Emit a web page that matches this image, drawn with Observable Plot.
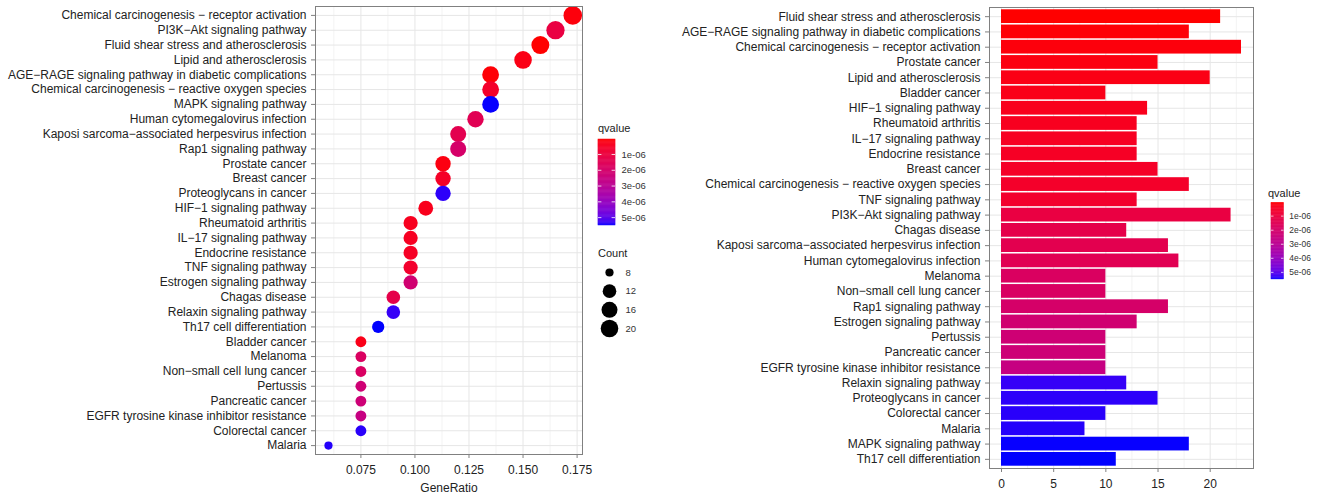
<!DOCTYPE html>
<html>
<head>
<meta charset="utf-8">
<script src="https://cdn.jsdelivr.net/npm/d3@7"></script>
<script src="https://cdn.jsdelivr.net/npm/@observablehq/plot@0.6"></script>
<style>
html,body{margin:0;padding:0;background:#fff;}
#fig{position:relative;width:1328px;height:496px;overflow:hidden;font-family:"Liberation Sans",Arial,sans-serif;background:#fff;}
.part{position:absolute;}
.ltitle{position:absolute;font-size:11px;color:#222;line-height:11px;white-space:nowrap;}
</style>
</head>
<body>
<div id="fig"></div>
<script>
// ---------- data ----------
const pathways = [
  "Chemical carcinogenesis − receptor activation",
  "PI3K−Akt signaling pathway",
  "Fluid shear stress and atherosclerosis",
  "Lipid and atherosclerosis",
  "AGE−RAGE signaling pathway in diabetic complications",
  "Chemical carcinogenesis − reactive oxygen species",
  "MAPK signaling pathway",
  "Human cytomegalovirus infection",
  "Kaposi sarcoma−associated herpesvirus infection",
  "Rap1 signaling pathway",
  "Prostate cancer",
  "Breast cancer",
  "Proteoglycans in cancer",
  "HIF−1 signaling pathway",
  "Rheumatoid arthritis",
  "IL−17 signaling pathway",
  "Endocrine resistance",
  "TNF signaling pathway",
  "Estrogen signaling pathway",
  "Chagas disease",
  "Relaxin signaling pathway",
  "Th17 cell differentiation",
  "Bladder cancer",
  "Melanoma",
  "Non−small cell lung cancer",
  "Pertussis",
  "Pancreatic cancer",
  "EGFR tyrosine kinase inhibitor resistance",
  "Colorectal cancer",
  "Malaria"
];
const geneRatio = [0.173,0.165,0.158,0.150,0.135,0.135,0.135,0.128,0.120,0.120,
                   0.113,0.113,0.113,0.105,0.098,0.098,0.098,0.098,0.098,0.090,
                   0.090,0.083,0.075,0.075,0.075,0.075,0.075,0.075,0.075,0.060];
const counts = [23,22,21,20,18,18,18,17,16,16,
                15,15,15,14,13,13,13,13,13,12,
                12,11,10,10,10,10,10,10,10,8];
const qvalues = [1.5e-7,1.1e-6,5e-8,2.5e-7,1.0e-7,6.0e-7,5.49e-6,1.5e-6,1.4e-6,2.0e-6,
                 2.0e-7,5.5e-7,5.38e-6,3.5e-7,4.0e-7,4.5e-7,5.0e-7,6.5e-7,2.2e-6,1.3e-6,
                 5.33e-6,5.5e-6,3.0e-7,1.8e-6,1.85e-6,2.3e-6,2.35e-6,2.6e-6,5.4e-6,5.42e-6];
const barOrder = [
  "Fluid shear stress and atherosclerosis",
  "AGE−RAGE signaling pathway in diabetic complications",
  "Chemical carcinogenesis − receptor activation",
  "Prostate cancer",
  "Lipid and atherosclerosis",
  "Bladder cancer",
  "HIF−1 signaling pathway",
  "Rheumatoid arthritis",
  "IL−17 signaling pathway",
  "Endocrine resistance",
  "Breast cancer",
  "Chemical carcinogenesis − reactive oxygen species",
  "TNF signaling pathway",
  "PI3K−Akt signaling pathway",
  "Chagas disease",
  "Kaposi sarcoma−associated herpesvirus infection",
  "Human cytomegalovirus infection",
  "Melanoma",
  "Non−small cell lung cancer",
  "Rap1 signaling pathway",
  "Estrogen signaling pathway",
  "Pertussis",
  "Pancreatic cancer",
  "EGFR tyrosine kinase inhibitor resistance",
  "Relaxin signaling pathway",
  "Proteoglycans in cancer",
  "Colorectal cancer",
  "Malaria",
  "MAPK signaling pathway",
  "Th17 cell differentiation"
];
const ratioTicks = [0.075, 0.100, 0.125, 0.150, 0.175];
const ratioMinor = [0.0625, 0.0875, 0.1125, 0.1375, 0.1625];
const countAxisTicks = [0, 5, 10, 15, 20];
const countAxisMinor = [2.5, 7.5, 12.5, 17.5, 22.5];
const qTicks = [1e-6, 2e-6, 3e-6, 4e-6, 5e-6];
const countLegend = [8, 12, 16, 20];

// ---------- shared ----------
const font = "Liberation Sans, Arial, sans-serif";
const fig = document.getElementById("fig");
const rows = pathways.map((p, i) => ({pathway: p, ratio: geneRatio[i], count: counts[i], q: qvalues[i]}));
const qExtent = d3.extent(qvalues);
const colorScale = {type: "linear", domain: qExtent, range: ["#ff0000", "#0000ff"], interpolate: "lab"};
const rScale = {type: "linear", domain: [8, 12, 16, 20, 23], range: [4.1, 6.8, 8.0, 8.8, 9.3]};
const fmtQ = d => {
  const [m, e] = d.toExponential(0).split("e");
  return m + "e" + (e[0] === "-" ? "-" : "+") + String(Math.abs(+e)).padStart(2, "0");
};
const baseStyle = {fontFamily: font, fontSize: "12px", color: "#222", background: "transparent", overflow: "visible"};
function place(node, left, top) {
  const d = document.createElement("div");
  d.className = "part";
  d.style.left = left + "px";
  d.style.top = top + "px";
  d.appendChild(node);
  fig.appendChild(d);
}
function title(text, left, top) {
  const d = document.createElement("div");
  d.className = "ltitle";
  d.style.left = left + "px";
  d.style.top = top + "px";
  d.textContent = text;
  fig.appendChild(d);
}

// ---------- dot plot ----------
const dotPlot = Plot.plot({
  width: 590, height: 496,
  marginLeft: 315, marginRight: 8, marginTop: 6, marginBottom: 42,
  style: baseStyle,
  x: {domain: [0.054, 0.1775]},
  y: {type: "point", domain: pathways, padding: 0.6, round: false},
  color: colorScale,
  r: rScale,
  marks: [
    Plot.gridX({ticks: ratioMinor, stroke: "#f3f3f3", strokeOpacity: 1}),
    Plot.gridX({ticks: ratioTicks, stroke: "#e6e6e6", strokeOpacity: 1}),
    Plot.gridY({stroke: "#e6e6e6", strokeOpacity: 1}),
    Plot.dot(rows, {x: "ratio", y: "pathway", r: "count", fill: "q"}),
    Plot.frame({stroke: "#808080"}),
    Plot.axisX({ticks: ratioTicks, tickFormat: d3.format(".3f"), tickSize: 4, tickPadding: 7,
      stroke: "#808080", fill: "#222", label: "GeneRatio", labelAnchor: "center", labelArrow: "none", labelOffset: 37}),
    Plot.axisY({tickSize: 4, tickPadding: 5, stroke: "#808080", fill: "#222", label: null})
  ]
});
place(dotPlot, 0, 0);

// ---------- bar plot ----------
const barPlot = Plot.plot({
  width: 600, height: 496,
  marginLeft: 309, marginRight: 27, marginTop: 7, marginBottom: 28,
  style: baseStyle,
  x: {domain: [-1.15, 24.15]},
  y: {type: "band", domain: barOrder, paddingInner: 0.1, paddingOuter: 0.15, round: false},
  color: colorScale,
  marks: [
    Plot.gridX({ticks: countAxisMinor, stroke: "#f3f3f3", strokeOpacity: 1}),
    Plot.gridX({ticks: countAxisTicks, stroke: "#e6e6e6", strokeOpacity: 1}),
    Plot.gridY({stroke: "#e6e6e6", strokeOpacity: 1}),
    Plot.barX(rows, {x: "count", y: "pathway", fill: "q"}),
    Plot.frame({stroke: "#808080"}),
    Plot.axisX({ticks: countAxisTicks, tickSize: 4, tickPadding: 7, stroke: "#808080", fill: "#222", label: null}),
    Plot.axisY({tickSize: 4, tickPadding: 5, stroke: "#808080", fill: "#222", label: null})
  ]
});
place(barPlot, 680, 0);

// ---------- legends ----------
function colorbar(barW, barH) {
  const n = 100;
  const [a, b] = qExtent;
  const stripes = d3.range(n).map(i => ({y1: a + (b - a) * i / n, y2: a + (b - a) * (i + 1) / n}));
  return Plot.plot({
    width: barW + 50, height: barH + 12,
    marginLeft: 0, marginRight: 50, marginTop: 6, marginBottom: 6,
    style: {...baseStyle, fontSize: "9.5px", color: "#333"},
    y: {domain: qExtent, reverse: true},
    color: colorScale,
    marks: [
      Plot.rect(stripes, {y1: "y1", y2: "y2", fill: d => (d.y1 + d.y2) / 2, stroke: d => (d.y1 + d.y2) / 2, strokeWidth: 0.5}),
      Plot.ruleY(qTicks, {stroke: "white", strokeOpacity: 0.8, insetRight: barW * 0.8}),
      Plot.ruleY(qTicks, {stroke: "white", strokeOpacity: 0.8, insetLeft: barW * 0.8}),
      Plot.axisY({anchor: "right", ticks: qTicks, tickFormat: fmtQ, tickSize: 0, tickPadding: 6, fill: "#333", label: null})
    ]
  });
}
title("qvalue", 598, 122.5);
place(colorbar(17, 86), 598, 133);

title("Count", 598, 247.5);
const countLeg = Plot.plot({
  width: 62, height: 76,
  marginLeft: 0, marginRight: 40, marginTop: 10, marginBottom: 10,
  style: {...baseStyle, fontSize: "9.5px", color: "#333"},
  y: {type: "point", domain: countLegend, padding: 0, round: false},
  r: rScale,
  marks: [
    Plot.dot(countLegend, {y: d => d, r: d => d, fill: "black"}),
    Plot.axisY({anchor: "right", tickSize: 0, tickPadding: 5, fill: "#333", label: null})
  ]
});
place(countLeg, 598, 262);

title("qvalue", 1268, 187.5);
place(colorbar(14, 86), 1271, 197);
</script>
</body>
</html>
